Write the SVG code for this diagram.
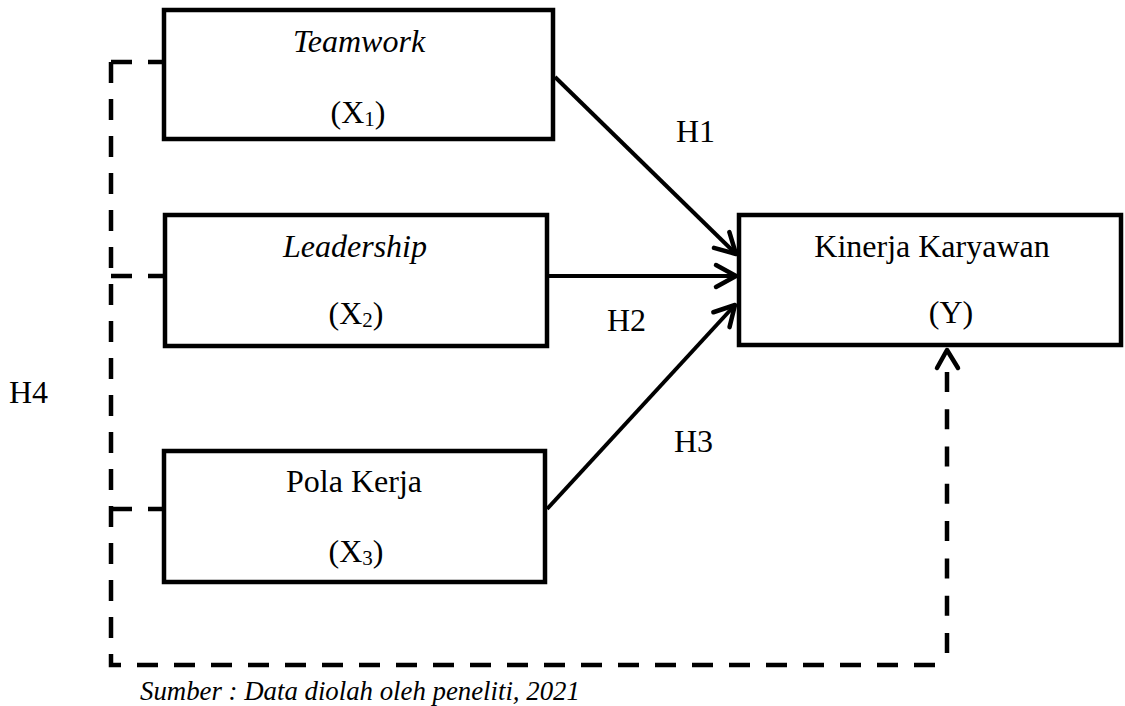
<svg xmlns="http://www.w3.org/2000/svg" width="1125" height="706" viewBox="0 0 1125 706">
<style>
text{font-family:"Liberation Serif","Times New Roman",serif;font-size:32px;fill:#000}
.it{font-style:italic}
.c{text-anchor:middle}
.box{fill:#fff;stroke:#000;stroke-width:4.5}
.arr{fill:none;stroke:#000;stroke-width:4;marker-end:url(#ah)}
.dash{fill:none;stroke:#000;stroke-width:4.5;stroke-dasharray:21 16}
.sub{font-size:21px}
</style>
<defs>
<marker id="ah" markerUnits="userSpaceOnUse" viewBox="-24 -14 28 28" refX="0" refY="0" markerWidth="28" markerHeight="28" orient="auto" overflow="visible">
<path d="M-20,-11 L0,0 L-20,11" fill="none" stroke="#000" stroke-width="4.5" stroke-linecap="round" stroke-linejoin="round"/>
</marker>
</defs>
<g id="connectors">
<line class="arr" x1="555" y1="77" x2="736" y2="254"/>
<line class="arr" x1="547" y1="276" x2="736" y2="276"/>
<line class="arr" x1="547" y1="509" x2="735" y2="305"/>
<path class="dash" d="M111,62 H164"/>
<path class="dash" d="M111,276 H164"/>
<path class="dash" d="M111,509 H164"/>
<path class="dash" d="M111,62 V665 H948"/>
<path d="M947,653 V372" fill="none" stroke="#000" stroke-width="4.5" stroke-dasharray="20 17.3"/>
<path d="M937,368 L947,350 L958,368" fill="none" stroke="#000" stroke-width="4.5" stroke-linecap="round" stroke-linejoin="round"/>
</g>
<g id="x1">
<rect class="box" x="164" y="10" width="389" height="129"/>
<text class="it c" x="359" y="52">Teamwork</text>
<text class="c" x="358" y="123">(X<tspan class="sub" dy="3">1</tspan><tspan dy="-3">)</tspan></text>
</g>
<g id="x2">
<rect class="box" x="165" y="215" width="382" height="131"/>
<text class="it c" x="355" y="257">Leadership</text>
<text class="c" x="356" y="324">(X<tspan class="sub" dy="3">2</tspan><tspan dy="-3">)</tspan></text>
</g>
<g id="x3">
<rect class="box" x="164" y="451" width="381" height="131"/>
<text class="c" x="354" y="492">Pola Kerja</text>
<text class="c" x="356" y="562">(X<tspan class="sub" dy="3">3</tspan><tspan dy="-3">)</tspan></text>
</g>
<g id="y">
<rect class="box" x="739" y="215" width="382" height="130"/>
<text class="c" x="932" y="257">Kinerja Karyawan</text>
<text class="c" x="951" y="323">(Y)</text>
</g>
<g id="labels">
<text x="676" y="142">H1</text>
<text x="607" y="331">H2</text>
<text x="674" y="452">H3</text>
<text x="9" y="403">H4</text>
<text class="it" x="140" y="700" style="font-size:26.8px">Sumber : Data diolah oleh peneliti, 2021</text>
</g>
</svg>
